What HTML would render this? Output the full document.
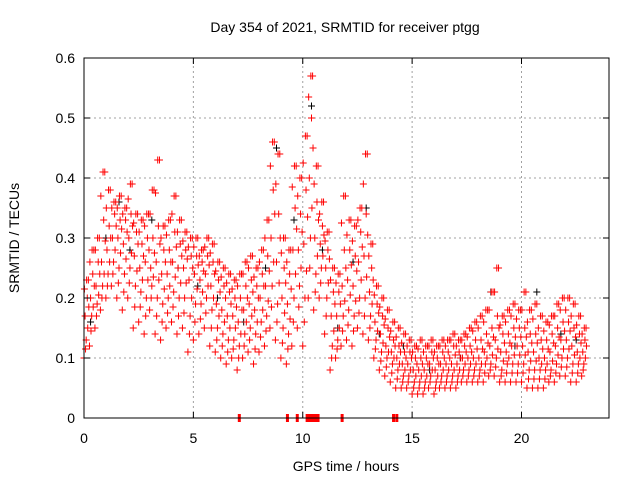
<!DOCTYPE html>
<html><head><meta charset="utf-8"><style>
html,body{margin:0;padding:0;background:#fff;}
svg{display:block;font-family:"Liberation Sans",sans-serif;}
</style></head><body>
<svg id="chart" width="640" height="480" viewBox="0 0 640 480">
<text x="345" y="32" font-size="14" text-anchor="middle">Day 354 of 2021, SRMTID for receiver ptgg</text>
<text x="346" y="471" font-size="14" text-anchor="middle">GPS time / hours</text>
<text x="0" y="0" font-size="14" text-anchor="middle" transform="translate(19,238) rotate(-90)">SRMTID / TECUs</text>
<g id="grid"></g>
<g id="black"></g>
<g id="red"></g>
<g id="zeros"></g>
<rect x="84" y="58" width="525" height="360" fill="none" stroke="#000" stroke-width="1"/>
<g id="ticks"></g>
</svg>
<script>
const xTicks=[0,5,10,15,20];
const yTicks=[0,0.1,0.2,0.3,0.4,0.5,0.6];
const yTickLabels=["0","0.1","0.2","0.3","0.4","0.5","0.6"];
const binStart=0, binStep=0.25;
const redBins=[
[0.10,0.13,0.17,0.20,0.23],[0.12,0.17,0.20,0.24,0.28],[0.15,0.19,0.22,0.26,0.30],[0.18,0.22,0.26,0.33,0.41],
[0.20,0.24,0.28,0.32,0.38],[0.22,0.26,0.30,0.34,0.36],[0.20,0.25,0.30,0.33,0.37],[0.18,0.24,0.29,0.33,0.35],
[0.20,0.25,0.30,0.34,0.39],[0.15,0.22,0.27,0.31,0.34],[0.16,0.21,0.25,0.29,0.33],[0.14,0.20,0.26,0.30,0.34],
[0.18,0.22,0.25,0.30,0.38],[0.14,0.20,0.26,0.32,0.43],[0.13,0.19,0.24,0.28,0.32],[0.15,0.20,0.24,0.28,0.33],
[0.16,0.21,0.26,0.31,0.37],[0.14,0.20,0.25,0.29,0.33],[0.15,0.20,0.25,0.28,0.31],[0.11,0.17,0.23,0.27,0.30],
[0.13,0.19,0.24,0.27,0.30],[0.14,0.19,0.23,0.26,0.28],[0.15,0.20,0.24,0.27,0.30],[0.12,0.18,0.22,0.26,0.29],
[0.11,0.15,0.19,0.23,0.26],[0.10,0.14,0.18,0.22,0.25],[0.09,0.13,0.17,0.21,0.24],[0.10,0.13,0.17,0.20,0.23],
[0.08,0.12,0.16,0.20,0.24],[0.10,0.14,0.18,0.22,0.26],[0.11,0.15,0.19,0.23,0.27],[0.09,0.14,0.18,0.22,0.25],
[0.11,0.16,0.20,0.24,0.28],[0.12,0.17,0.22,0.27,0.33],[0.15,0.22,0.30,0.38,0.46],[0.13,0.19,0.26,0.34,0.44],
[0.10,0.15,0.20,0.25,0.30],[0.09,0.14,0.19,0.24,0.28],[0.12,0.20,0.28,0.35,0.42],[0.15,0.22,0.28,0.34,0.40],
[0.12,0.20,0.29,0.38,0.47],[0.20,0.30,0.40,0.50,0.57],[0.18,0.24,0.30,0.36,0.42],[0.20,0.25,0.29,0.32,0.36],
[0.14,0.20,0.25,0.28,0.31],[0.08,0.12,0.17,0.21,0.25],[0.10,0.13,0.17,0.21,0.24],[0.12,0.17,0.22,0.28,0.37],
[0.13,0.18,0.23,0.28,0.33],[0.12,0.17,0.22,0.27,0.32],[0.15,0.20,0.26,0.31,0.35],[0.14,0.20,0.27,0.34,0.44],
[0.13,0.17,0.21,0.25,0.29],[0.10,0.13,0.16,0.19,0.22],[0.08,0.11,0.14,0.17,0.20],[0.07,0.10,0.12,0.15,0.18],
[0.06,0.09,0.11,0.13,0.16],[0.05,0.08,0.10,0.12,0.15],[0.05,0.07,0.09,0.11,0.14],[0.05,0.07,0.09,0.11,0.13],
[0.04,0.06,0.08,0.10,0.12],[0.04,0.06,0.08,0.10,0.13],[0.04,0.06,0.08,0.10,0.12],[0.05,0.07,0.09,0.11,0.13],
[0.04,0.06,0.08,0.10,0.12],[0.05,0.07,0.09,0.11,0.13],[0.05,0.07,0.09,0.11,0.13],[0.05,0.07,0.09,0.12,0.14],
[0.05,0.07,0.09,0.11,0.13],[0.06,0.08,0.10,0.12,0.14],[0.06,0.08,0.10,0.12,0.15],[0.06,0.08,0.10,0.13,0.16],
[0.06,0.08,0.10,0.13,0.17],[0.06,0.09,0.11,0.14,0.18],[0.07,0.09,0.12,0.15,0.21],[0.07,0.10,0.13,0.17,0.25],
[0.06,0.08,0.11,0.14,0.17],[0.06,0.09,0.11,0.14,0.18],[0.06,0.09,0.12,0.15,0.19],[0.06,0.09,0.12,0.15,0.18],
[0.06,0.09,0.12,0.15,0.21],[0.05,0.08,0.11,0.14,0.18],[0.05,0.08,0.11,0.14,0.19],[0.05,0.08,0.10,0.13,0.17],
[0.05,0.08,0.10,0.13,0.16],[0.06,0.08,0.11,0.14,0.17],[0.06,0.09,0.12,0.15,0.19],[0.07,0.10,0.13,0.16,0.20],
[0.07,0.10,0.13,0.16,0.20],[0.06,0.09,0.12,0.15,0.19],[0.06,0.09,0.11,0.14,0.17],[0.07,0.09,0.11,0.13,0.15]
];
const blackTimes=[0.3,1.0,1.6,2.1,3.1,4.3,5.2,6.1,7.3,8.3,8.8,9.6,10.4,10.9,11.6,12.3,12.9,13.5,14.6,15.8,17.2,18.6,19.7,20.7,21.8,22.5];
const blackValues=[0.16,0.30,0.36,0.28,0.33,0.25,0.22,0.20,0.16,0.25,0.45,0.33,0.52,0.28,0.15,0.26,0.35,0.14,0.12,0.08,0.10,0.21,0.12,0.21,0.14,0.13];
const zeroTimes=[7.1,9.3,9.75,10.2,10.3,10.4,10.5,10.6,10.7,11.8,14.15,14.3];

const X0=84,X1=609,Y0=418,Y1=58,XMAX=24,YMAX=0.6;
const xs=v=>X0+(v/XMAX)*(X1-X0);
const ys=v=>Y0-(v/YMAX)*(Y0-Y1);
const NS="http://www.w3.org/2000/svg";
function mk(tag,parent,attrs){const e=document.createElementNS(NS,tag);for(const k in attrs)e.setAttribute(k,attrs[k]);parent.appendChild(e);return e;}
const grid=document.getElementById('grid'),ticks=document.getElementById('ticks');
xTicks.forEach((t,i)=>{const x=xs(t);
 if(t>0){const g=mk('line',grid,{x1:x,x2:x,y1:Y0,y2:Y1,stroke:'#a0a0a0','stroke-dasharray':'2,3'});
 
 }
 const tk=mk('path',ticks,{d:`M${x},${Y0}v-6M${x},${Y1}v6`,stroke:'#000'});
 
 
 const lb=mk('text',ticks,{x:x,y:Y0+25,'font-size':14,'text-anchor':'middle'});lb.textContent=String(t);
 
 
});
yTicks.forEach((t,i)=>{const y=ys(t);
 if(t>0){const g=mk('line',grid,{x1:X0,x2:X1,y1:y,y2:y,stroke:'#a0a0a0','stroke-dasharray':'2,3'});
 
 }
 const tk=mk('path',ticks,{d:`M${X0},${y}h6M${X1},${y}h-6`,stroke:'#000'});
 
 
 const lb=mk('text',ticks,{x:X0-9,y:y+5,'font-size':14,'text-anchor':'end'});lb.textContent=yTickLabels[i];
 
 
});
function plus(parent,x,y,col,name){const p=mk('path',parent,{d:`M${x-3.5},${y}h7M${x},${y-3.5}v7`,stroke:col,'stroke-width':1});
 
 }
const blk=document.getElementById('black');
blackTimes.forEach((t,i)=>plus(blk,xs(t),ys(blackValues[i]),'#000','black-point'));
const red=document.getElementById('red');
const offs=[0,0.1,0.05,0.15,0.2];
redBins.forEach((vals,b)=>{const t=binStart+b*binStep;
 vals.forEach((v,k)=>{plus(red,xs(t+offs[k]),ys(v),'#f00','red-point');
  plus(red,xs(t+offs[(k+2)%5]+0.02),ys((v+vals[Math.min(k+1,4)])/2),'#f00','red-point');});
});
const z=document.getElementById('zeros');
zeroTimes.forEach(t=>{const r=mk('rect',z,{x:xs(t)-1.5,y:Y0-4,width:3,height:8,fill:'#f00'});
 
 });
</script>
</body></html>
